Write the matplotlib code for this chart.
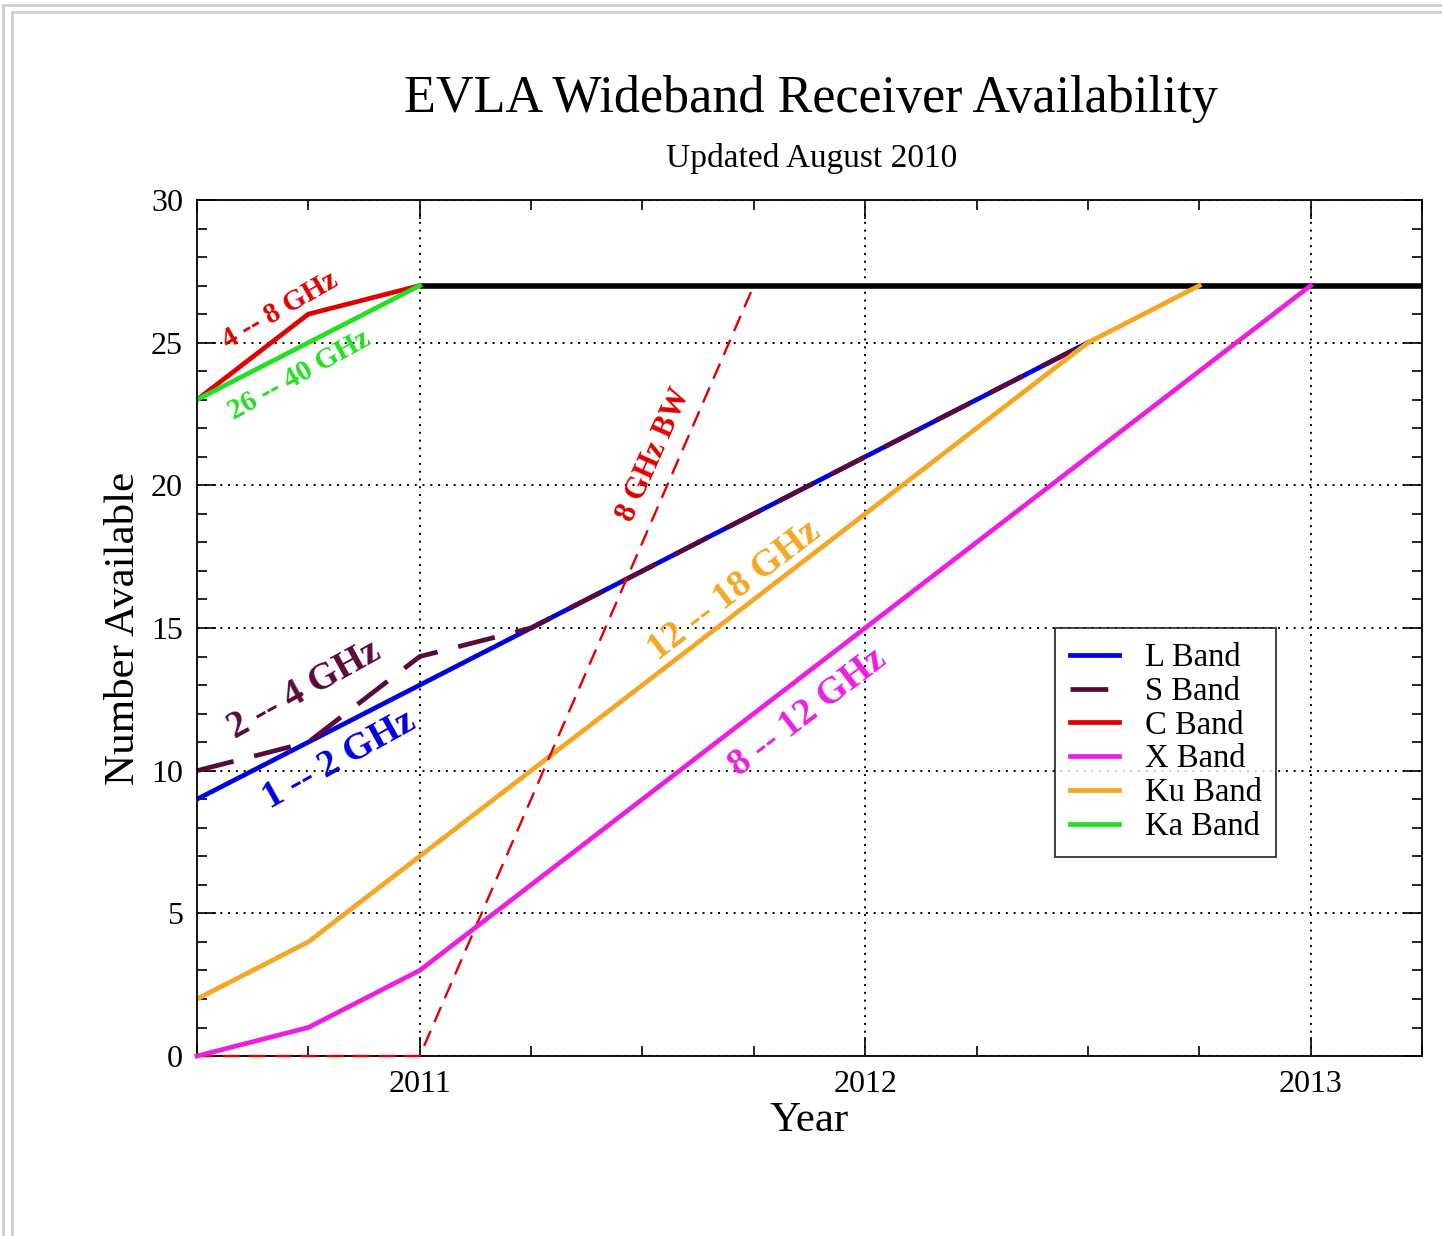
import numpy as np
import matplotlib.pyplot as plt
from matplotlib.lines import Line2D
from matplotlib.ticker import MultipleLocator

# year positions and receiver counts
l_years = [2010.5, 2010.75, 2011.0, 2011.25, 2012.5]
l_count = [9, 11, 13, 15, 25]

s_years = [2010.5, 2010.75, 2011.0, 2011.25, 2012.5]
s_count = [10, 11, 14, 15, 25]

c_years = [2010.5, 2010.75, 2011.0]
c_count = [23, 26, 27]

x_years = [2010.5, 2010.75, 2011.0, 2013.0]
x_count = [0, 1, 3, 27]

ku_years = [2010.5, 2010.75, 2011.0, 2012.5, 2012.75]
ku_count = [2, 4, 7, 25, 27]

ka_years = [2010.5, 2011.0]
ka_count = [23, 27]

bw_years = [2010.5, 2011.0, 2011.75]
bw_count = [0, 0, 27]

full_years = [2011.0, 2013.25]
full_count = [27, 27]

legend_labels = ['L Band', 'S Band', 'C Band', 'X Band', 'Ku Band', 'Ka Band']


def main():
    plt.rcParams['font.family'] = 'Liberation Serif'
    fig = plt.figure(figsize=(14.42, 12.36), dpi=100)
    ax = fig.add_axes([0.1366, 0.1456, 0.8495, 0.6926])

    # page frame lines
    gray = '#d0d0d0'
    fig.add_artist(Line2D([0.002, 0.002], [0, 0.996], color=gray, lw=2))
    fig.add_artist(Line2D([0.002, 1], [0.996, 0.996], color=gray, lw=2))
    fig.add_artist(Line2D([0.008, 0.008], [0, 0.990], color=gray, lw=2))
    fig.add_artist(Line2D([0.008, 1], [0.990, 0.990], color=gray, lw=2))

    ax.plot(full_years, full_count, color='black', lw=4, solid_capstyle='butt')
    ax.plot(bw_years, bw_count, color='#e00000', lw=1.7, ls=(0, (7, 4)),
            zorder=3, clip_on=False)
    lL, = ax.plot(l_years, l_count, color='#0000e0', lw=3.4)
    lS, = ax.plot(s_years, s_count, color='#5a0a3a', lw=3.4, ls=(0, (8, 4.5)))
    lC, = ax.plot(c_years, c_count, color='#e00000', lw=3.4)
    lX, = ax.plot(x_years, x_count, color='#ee1ee0', lw=3.4, zorder=3,
                  clip_on=False)
    lKu, = ax.plot(ku_years, ku_count, color='#f5a623', lw=3.4)
    lKa, = ax.plot(ka_years, ka_count, color='#22e022', lw=3.4)

    ax.set_xlim(2010.5, 2013.25)
    ax.set_ylim(0, 30)
    ax.xaxis.set_major_locator(MultipleLocator(1))
    ax.xaxis.set_minor_locator(MultipleLocator(0.25))
    ax.yaxis.set_major_locator(MultipleLocator(5))
    ax.yaxis.set_minor_locator(MultipleLocator(1))
    ax.xaxis.set_major_formatter(plt.FuncFormatter(lambda v, p: '%d' % v))
    ax.tick_params(which='both', direction='in', top=True, right=True,
                   labelsize=23, width=1.2)
    ax.tick_params(which='major', length=14, pad=10)
    ax.tick_params(which='minor', length=7)
    ax.grid(True, which='major', color='black', lw=1.4, ls=(0, (1, 3)))
    for sp in ax.spines.values():
        sp.set_linewidth(1.3)

    ax.set_xlabel('Year', fontsize=31, labelpad=2)
    ax.set_ylabel('Number Available', fontsize=31, labelpad=6)

    fig.text(0.5625, 0.920, 'EVLA Wideband Receiver Availability',
             ha='center', va='center', fontsize=37.5)
    fig.text(0.5625, 0.872, 'Updated August 2010',
             ha='center', va='center', fontsize=24)

    kw = dict(ha='center', va='center', fontweight='bold',
              rotation_mode='anchor')
    ax.text(2010.686, 26.15, '4 -- 8 GHz', color='#e00000', fontsize=21,
            rotation=30, **kw)
    ax.text(2010.73, 23.87, '26 -- 40 GHz', color='#22e022', fontsize=21,
            rotation=29, **kw)
    ax.text(2010.74, 12.85, '2 -- 4 GHz', color='#5a0a3a', fontsize=27.5,
            rotation=29, **kw)
    ax.text(2010.82, 10.37, '1 -- 2 GHz', color='#0000e0', fontsize=27.5,
            rotation=29, **kw)
    ax.text(2011.527, 21.07, '8 GHz BW', color='#e00000', fontsize=22,
            rotation=66, **kw)
    ax.text(2011.706, 16.33, '12 -- 18 GHz', color='#f5a623', fontsize=27.5,
            rotation=37.5, **kw)
    ax.text(2011.87, 12.06, '8 -- 12 GHz', color='#ee1ee0', fontsize=27.5,
            rotation=37.5, **kw)

    leg = ax.legend([lL, lS, lC, lX, lKu, lKa], legend_labels,
                    loc='upper left', bbox_to_anchor=(0.7004, 0.5),
                    fontsize=23.5, frameon=True, fancybox=False,
                    edgecolor='black', handlelength=1.5, handletextpad=0.8,
                    labelspacing=0.1, borderpad=0.45, borderaxespad=0)
    leg.get_frame().set_linewidth(1.3)

    fig.savefig('out.png', dpi=100)


if __name__ == "__main__":
    main()
